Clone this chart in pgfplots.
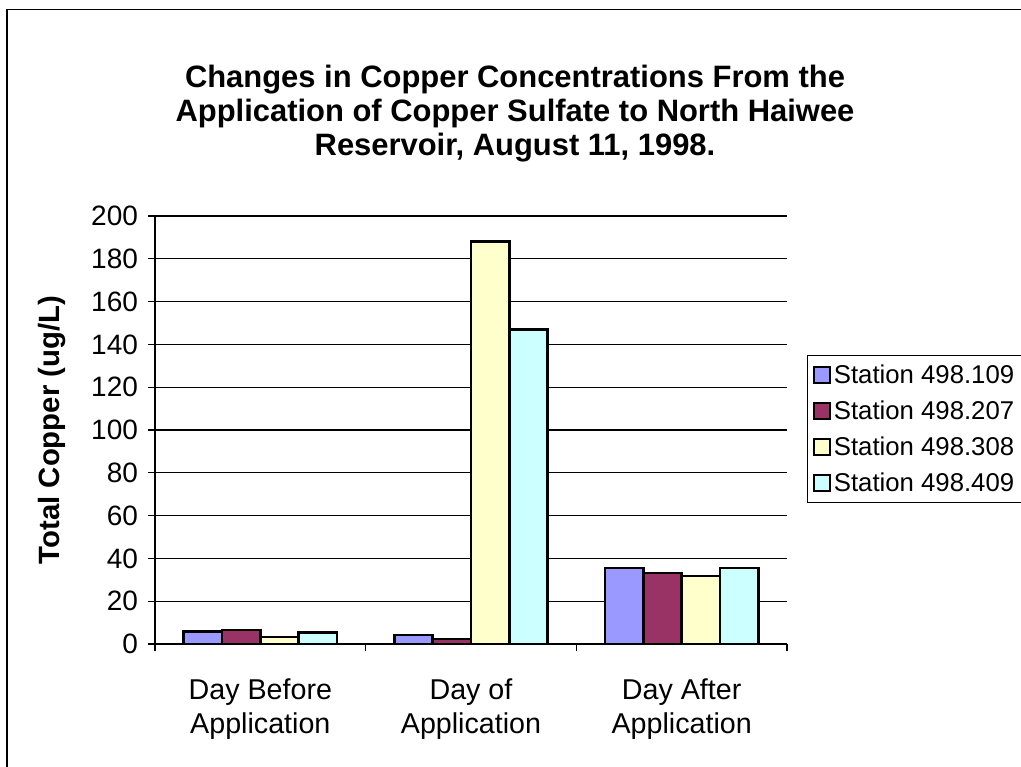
\documentclass[border=0pt]{standalone}
\usepackage{fontspec}
\setmainfont{Liberation Sans}
\usepackage{pgfplots}
\pgfplotsset{compat=1.18}
\definecolor{cA}{HTML}{9999FF}
\definecolor{cB}{HTML}{993366}
\definecolor{cC}{HTML}{FFFFCC}
\definecolor{cD}{HTML}{CCFFFF}
\begin{document}
\begin{tikzpicture}
\useasboundingbox (0,0) rectangle (765.75pt,-575.25pt);
\draw[black, line width=1pt] (5.25pt,-580pt) -- (5.25pt,-6.9pt) -- (770pt,-6.9pt);
\begin{axis}[
  at={(116.25pt,-483pt)}, anchor=south west,
  width=474pt, height=321pt, scale only axis,
  xmin=-0.5, xmax=2.5, ymin=0, ymax=200,
  axis x line=bottom, axis y line=left,
  axis line style={-, black, line width=0.8pt},
  ytick={0,20,...,200},
  ymajorgrids, grid style={black, line width=0.8pt},
  xtick={0,1,2},
  xticklabels={{Day Before\\Application},{Day of\\Application},{Day After\\Application}},
  minor xtick={-0.5,0.5,1.5,2.5},
  tick align=outside,
  major tick length=5.25pt, minor tick length=5.25pt,
  tick style={black, line width=0.8pt},
  major x tick style={draw=none},
  xticklabel style={align=center, font=\fontsize{21.5}{25.5}\selectfont, yshift=-17.5pt},
  yticklabel style={font=\fontsize{21}{25}\selectfont, xshift=-4pt},
  /pgf/number format/assume math mode=true,
  ylabel={Total Copper (ug/L)},
  ylabel style={font=\bfseries\fontsize{22}{26}\selectfont, at={(axis description cs:-0.163,0.5)}, anchor=center},
  title={Changes in Copper Concentrations From the\\Application of Copper Sulfate to North Haiwee\\Reservoir, August 11, 1998.},
  title style={font=\bfseries\fontsize{23.2}{25.5}\selectfont, align=center, at={(axis description cs:0.5696,1.22)}, anchor=center},
  ybar, bar width=0.182,
  legend style={at={(axis description cs:1.0316,0.675)}, anchor=north west, draw=black, line width=0.8pt,
    font=\fontsize{19.3}{23}\selectfont, row sep=7.5pt, inner xsep=4pt, inner ysep=5pt,
    nodes={inner xsep=2.5pt}},
  legend cell align=left,
  legend image code/.code={\draw[#1, line width=1.3pt] (0pt,-6pt) rectangle (12pt,6pt);},
]
\addplot[fill=cA, draw=black, line width=1.8pt, bar shift=-0.273] coordinates {(0,5.9) (1,4.3) (2,35.6)};
\addplot[fill=cB, draw=black, line width=1.8pt, bar shift=-0.091] coordinates {(0,6.5) (1,2.4) (2,33.2)};
\addplot[fill=cC, draw=black, line width=1.8pt, bar shift=0.091] coordinates {(0,3.2) (1,188) (2,31.7)};
\addplot[fill=cD, draw=black, line width=1.8pt, bar shift=0.273] coordinates {(0,5.4) (1,146.9) (2,35.6)};
\legend{Station 498.109, Station 498.207, Station 498.308, Station 498.409}
\end{axis}
\end{tikzpicture}
\end{document}
